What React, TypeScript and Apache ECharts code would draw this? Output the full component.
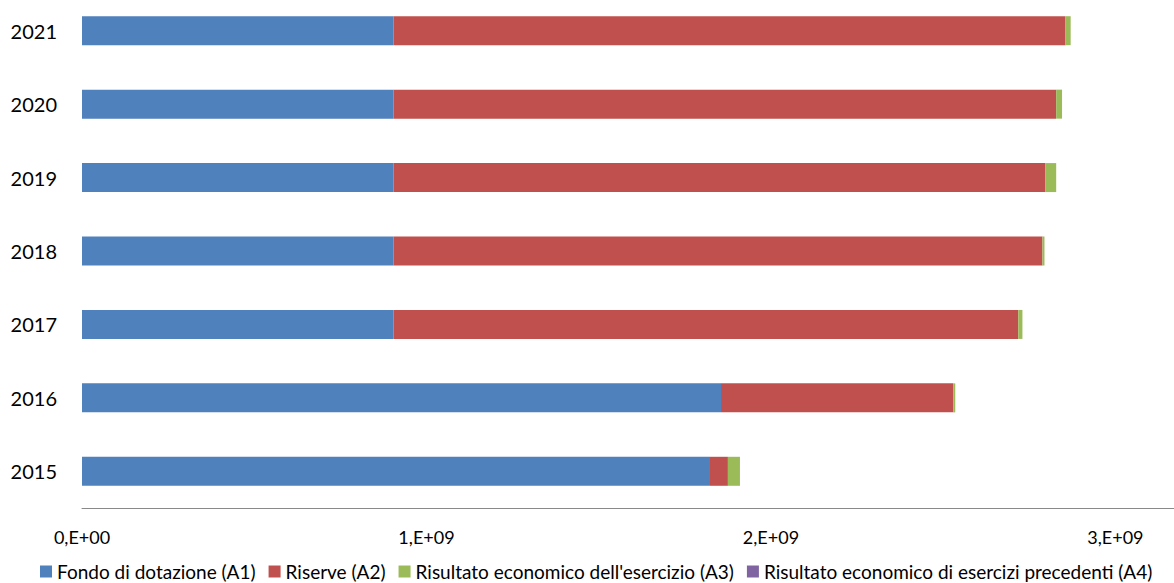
import React, { useEffect, useRef } from "react";
import * as echarts from "echarts";

const years = ["2015", "2016", "2017", "2018", "2019", "2020", "2021"];
const fondo = [1.823e9, 1.855e9, 0.904e9, 0.904e9, 0.904e9, 0.904e9, 0.904e9];
const riserve = [0.052e9, 0.674e9, 1.814e9, 1.884e9, 1.892e9, 1.924e9, 1.951e9];
const risultato = [0.035e9, 0.006e9, 0.012e9, 0.006e9, 0.032e9, 0.017e9, 0.015e9];
const precedenti = [0, 0, 0, 0, 0, 0, 0];
const seriesNames = [
  "Fondo di dotazione (A1)",
  "Riserve (A2)",
  "Risultato economico dell'esercizio (A3)",
  "Risultato economico di esercizi precedenti (A4)",
];
const colors = ["#4F81BD", "#C0504D", "#9BBB59", "#8064A2"];

const FONT = "Lato, 'Open Sans', sans-serif";

export default function App() {
  const ref = useRef<HTMLDivElement>(null);
  useEffect(() => {
    if (!ref.current) return;
    const chart = echarts.init(ref.current, undefined, { renderer: "svg" });
    const datasets = [fondo, riserve, risultato, precedenti];
    chart.setOption({
      animation: false,
      color: colors,
      textStyle: { fontFamily: FONT },
      grid: { left: 82, right: 0, top: 0, bottom: 75, containLabel: false },
      legend: {
        left: 40,
        top: 568,
        padding: 0,
        width: 1134,
        icon: "rect",
        itemWidth: 12,
        itemHeight: 12,
        itemGap: 13,
        textStyle: { fontFamily: FONT, fontSize: 19, color: "#000" },
        data: seriesNames,
      },
      xAxis: {
        type: "value",
        min: 0,
        max: 3.17e9,
        interval: 1e9,
        splitLine: { show: false },
        axisTick: { show: false },
        axisLine: { show: true, lineStyle: { color: "#898989", width: 1 } },
        axisLabel: {
          showMaxLabel: false,
          margin: 20,
          fontFamily: FONT,
          fontSize: 18,
          color: "#000",
          formatter: (v: number) => {
            if (v === 0) return "0,E+00";
            const k = v / 1e9;
            if (Math.abs(k - Math.round(k)) > 1e-6) return "";
            return Math.round(k) + ",E+09";
          },
        },
      },
      yAxis: {
        type: "category",
        data: years,
        axisLine: { show: false },
        axisTick: { show: false },
        splitLine: { show: false },
        axisLabel: { margin: 25, fontFamily: FONT, fontSize: 20, color: "#000" },
      },
      series: seriesNames.map((name, i) => ({
        name,
        type: "bar",
        stack: "total",
        barWidth: 29,
        data: datasets[i],
        itemStyle: { color: colors[i] },
      })),
    });
    return () => chart.dispose();
  }, []);
  return (
    <div
      ref={ref}
      style={{ position: "fixed", left: 0, top: -6, width: 1174, height: 589, background: "#fff" }}
    />
  );
}
